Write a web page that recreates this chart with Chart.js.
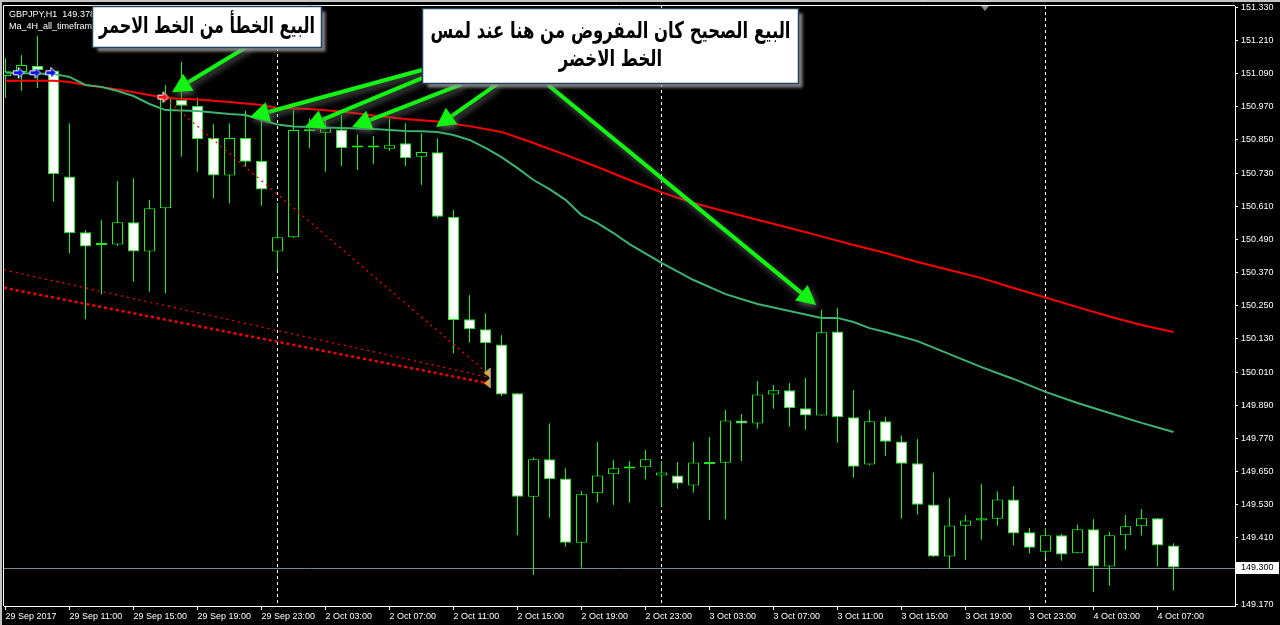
<!DOCTYPE html>
<html lang="ar">
<head>
<meta charset="UTF-8">
<title>GBPJPY,H1</title>
<script src="https://cdn.jsdelivr.net/npm/chart.js"></script>
<style>
    html, body { margin: 0; padding: 0; background: #000; }
    #wrap { width: 1280px; height: 625px; }
</style>
</head>
<body>
<div id="wrap"><canvas id="chart" width="1280" height="625"></canvas></div>
<script>
// bar -1 = 29 Sep 07:00, bar 16 = 2 Oct 00:00, bar 40 = 3 Oct 00:00, bar 64 = 4 Oct 00:00
const firstBar = -1;
const opens = [151.081, 151.096, 151.118, 151.101, 150.718, 150.516, 150.470, 150.472, 150.552, 150.446,
    150.603, 150.995, 150.973, 150.857, 150.721, 150.857, 150.774, 150.446, 150.498, 150.881,
    150.876, 150.888, 150.823, 150.823, 150.818, 150.838, 150.789, 150.805, 150.572, 150.201,
    150.165, 150.110, 149.933, 149.559, 149.694, 149.625, 149.392, 149.571, 149.640, 149.661,
    149.665, 149.636, 149.636, 149.599, 149.684, 149.682, 149.835, 149.824, 149.929, 149.944,
    149.879, 149.853, 150.157, 149.846, 149.675, 149.832, 149.759, 149.680, 149.531, 149.342,
    149.454, 149.473, 149.479, 149.549, 149.430, 149.360, 149.419, 149.354, 149.441, 149.306,
    149.419, 149.452, 149.481, 149.382];
const highs = [151.146, 151.157, 151.227, 151.103, 150.910, 150.524, 150.560, 150.701, 150.711, 150.633,
    151.049, 151.133, 151.004, 150.908, 150.910, 150.956, 150.920, 150.623, 150.958, 150.928,
    150.922, 150.940, 150.871, 150.864, 150.926, 150.910, 150.874, 150.856, 150.596, 150.289,
    150.223, 150.144, 149.934, 149.701, 149.824, 149.662, 149.579, 149.757, 149.692, 149.688,
    149.728, 149.688, 149.684, 149.757, 149.775, 149.873, 149.858, 149.978, 149.963, 149.970,
    149.988, 150.235, 150.242, 149.945, 149.873, 149.847, 149.780, 149.768, 149.646, 149.554,
    149.493, 149.605, 149.579, 149.598, 149.446, 149.446, 149.425, 149.457, 149.478, 149.431,
    149.493, 149.514, 149.482, 149.390];
const lows = [151.002, 151.027, 151.038, 150.626, 150.440, 150.201, 150.291, 150.466, 150.337, 150.301,
    150.295, 150.789, 150.735, 150.639, 150.621, 150.753, 150.612, 150.379, 150.495, 150.820,
    150.735, 150.756, 150.741, 150.763, 150.810, 150.756, 150.687, 150.566, 150.078, 150.116,
    150.000, 149.923, 149.420, 149.276, 149.483, 149.378, 149.303, 149.537, 149.529, 149.537,
    149.622, 149.523, 149.588, 149.573, 149.475, 149.477, 149.688, 149.805, 149.877, 149.812,
    149.801, 149.853, 149.754, 149.628, 149.673, 149.707, 149.479, 149.494, 149.341, 149.298,
    149.331, 149.403, 149.454, 149.382, 149.353, 149.337, 149.327, 149.353, 149.214, 149.237,
    149.367, 149.418, 149.306, 149.219];
const closes = [151.099, 151.121, 151.103, 150.726, 150.512, 150.464, 150.475, 150.552, 150.446, 150.603,
    151.001, 150.974, 150.853, 150.721, 150.857, 150.771, 150.671, 150.498, 150.886, 150.881,
    150.892, 150.820, 150.823, 150.823, 150.831, 150.784, 150.806, 150.572, 150.198, 150.165,
    150.114, 149.929, 149.559, 149.694, 149.622, 149.392, 149.568, 149.636, 149.662, 149.666,
    149.694, 149.646, 149.607, 149.683, 149.676, 149.835, 149.824, 149.929, 149.944, 149.879,
    149.853, 150.154, 149.846, 149.667, 149.832, 149.758, 149.678, 149.530, 149.342, 149.455,
    149.473, 149.481, 149.549, 149.426, 149.374, 149.419, 149.350, 149.441, 149.306, 149.419,
    149.452, 149.481, 149.382, 149.303];

// moving averages
const maRedBars = [-1, 2, 3, 4, 6, 8, 9, 11, 13, 15, 16, 18, 20, 22, 24, 26, 28, 30, 32, 34,
    36, 38, 40, 42, 44, 46, 48, 50, 52, 54, 56, 58, 60, 62, 64, 66, 68, 70, 72];
const maRedValues = [151.064, 151.064, 151.060, 151.049, 151.033, 151.013, 151.002, 150.996, 150.987, 150.976,
    150.966, 150.962, 150.953, 150.938, 150.926, 150.917, 150.900, 150.879, 150.839, 150.796,
    150.752, 150.705, 150.660, 150.622, 150.591, 150.561, 150.531, 150.501, 150.470, 150.441,
    150.408, 150.379, 150.350, 150.314, 150.280, 150.245, 150.211, 150.180, 150.155];
const maGreenBars = [-1, 2, 3, 4, 5, 6, 7, 8, 9, 11, 13, 14, 15, 16, 17, 19, 22, 24, 25, 26,
    27, 28, 29, 30, 31, 32, 33, 34, 35, 36, 37, 38, 40, 42, 44, 46, 48, 50, 51, 52,
    53, 54, 56, 58, 60, 62, 64, 66, 68, 70, 72];
const maGreenValues = [151.093, 151.089, 151.078, 151.049, 151.042, 151.027, 151.009, 150.980, 150.958, 150.955,
    150.944, 150.940, 150.922, 150.906, 150.899, 150.895, 150.890, 150.882, 150.881, 150.879,
    150.868, 150.850, 150.821, 150.788, 150.748, 150.705, 150.672, 150.633, 150.578, 150.549,
    150.513, 150.473, 150.405, 150.343, 150.292, 150.256, 150.231, 150.206, 150.206, 150.191,
    150.169, 150.155, 150.122, 150.075, 150.028, 149.985, 149.938, 149.898, 149.862, 149.826,
    149.793];

// trade lines and markers
const tradeUpperBars = [-1.1, 29.1];
const tradeUpperPrices = [150.380, 149.992];
const tradeLowerBars = [-1.1, 29.1];
const tradeLowerPrices = [150.315, 149.970];
const tradeDiagBars = [9.0, 29.1];
const tradeDiagPrices = [150.998, 150.007];
const buyArrowBars = [-0.2, 0.84, 1.83];
const buyArrowPrices = [151.093, 151.093, 151.093];
const sellArrowBars = [8.84];
const sellArrowPrices = [151.005];
const closeArrowBars = [29.1, 29.1];
const closeArrowPrices = [150.007, 149.970];

const lastPrice = 149.300;
const dayStartBars = [16, 40, 64];
const priceTicks = [151.33, 151.21, 151.09, 150.97, 150.85, 150.73, 150.61, 150.49, 150.37, 150.25,
    150.13, 150.01, 149.89, 149.77, 149.65, 149.53, 149.41, 149.29, 149.17];
const timeLabelBars = [-1, 3, 7, 11, 15, 19, 23, 27, 31, 35, 39, 43, 47, 51, 55, 59, 63, 67, 71];
const timeLabels = ['29 Sep 2017', '29 Sep 11:00', '29 Sep 15:00', '29 Sep 19:00', '29 Sep 23:00',
    '2 Oct 03:00', '2 Oct 07:00', '2 Oct 11:00', '2 Oct 15:00', '2 Oct 19:00', '2 Oct 23:00',
    '3 Oct 03:00', '3 Oct 07:00', '3 Oct 11:00', '3 Oct 15:00', '3 Oct 19:00', '3 Oct 23:00',
    '4 Oct 03:00', '4 Oct 07:00'];
const headerLines = ['GBPJPY,H1  149.378 149.390 149.219 149.303', 'Ma_4H_all_timeframes'];
const noteTexts = [
    ['البيع الخطأ من الخط الاحمر'],
    ['البيع الصحيح كان المفروض من هنا عند لمس', 'الخط الاخضر']
];

// annotation geometry in chart units (bar, price)
const notes = [
    { x0: 4.41, x1: 18.72, p0: 151.335, p1: 151.187, textWidth: 216, lineY: [27] },
    { x0: 25.03, x1: 48.53, p0: 151.327, p1: 151.056, textWidth: 360, lineY: [32, 60] }
];
const noteArrows = [
    { from: [14.16, 151.190], to: [9.41, 151.023] },
    { from: [25.03, 151.103], to: [14.28, 150.933] },
    { from: [25.03, 151.074], to: [17.72, 150.897] },
    { from: [27.53, 151.052], to: [20.66, 150.897] },
    { from: [29.72, 151.052], to: [25.91, 150.897] },
    { from: [32.91, 151.049], to: [49.66, 150.253] }
];

const bars = opens.map((_, k) => firstBar + k);
const wickData = bars.map((b, k) => ({ x: b, y: [lows[k], highs[k]] }));
const bodyData = bars.map((b, k) => ({ x: b, y: [opens[k], closes[k]] }));
const bodyFill = bars.map((b, k) => closes[k] < opens[k] ? '#ffffff' : '#000000');
const toPoints = (xs, ys) => xs.map((v, k) => ({ x: v, y: ys[k] }));

function arrowIcon(color, dir) {
    const c = document.createElement('canvas');
    c.width = 13; c.height = 13;
    const g = c.getContext('2d');
    g.translate(6.5, 6.5);
    g.scale(dir, 1);
    g.beginPath();
    g.moveTo(-5, -2); g.lineTo(0, -2); g.lineTo(0, -5.5); g.lineTo(5.5, 0);
    g.lineTo(0, 5.5); g.lineTo(0, 2); g.lineTo(-5, 2); g.closePath();
    g.fillStyle = color; g.fill();
    g.strokeStyle = '#ffffff'; g.lineWidth = 1; g.stroke();
    return c;
}
function closeIcon() {
    const c = document.createElement('canvas');
    c.width = 8; c.height = 10;
    const g = c.getContext('2d');
    g.beginPath(); g.moveTo(6.5, 0.5); g.lineTo(0.5, 5); g.lineTo(6.5, 9.5); g.closePath();
    g.fillStyle = '#e8a33a'; g.fill();
    g.strokeStyle = '#ffffff'; g.lineWidth = 1;
    g.beginPath(); g.moveTo(7, 0); g.lineTo(7, 10); g.stroke();
    return c;
}

function drawArrow(ctx, x1, y1, x2, y2) {
    const ang = Math.atan2(y2 - y1, x2 - x1);
    const headLen = 19, headW = 10;
    const bx = x2 - headLen * Math.cos(ang), by = y2 - headLen * Math.sin(ang);
    ctx.beginPath(); ctx.moveTo(x1, y1); ctx.lineTo(bx, by); ctx.stroke();
    ctx.beginPath();
    ctx.moveTo(x2, y2);
    ctx.lineTo(bx + headW * Math.sin(ang), by - headW * Math.cos(ang));
    ctx.lineTo(bx - headW * Math.sin(ang), by + headW * Math.cos(ang));
    ctx.closePath(); ctx.fill();
}

const mtOverlay = {
    id: 'mtOverlay',
    beforeDatasetsDraw(chart) {
        const { ctx, chartArea: a, scales: { x, y } } = chart;
        ctx.save();
        ctx.strokeStyle = '#ffffff';
        ctx.lineWidth = 1;
        ctx.setLineDash([3, 3]);
        dayStartBars.forEach(b => {
            const px = Math.floor(x.getPixelForValue(b)) + 0.5;
            ctx.beginPath(); ctx.moveTo(px, a.top); ctx.lineTo(px, a.bottom); ctx.stroke();
        });
        ctx.setLineDash([]);
        const py = Math.floor(y.getPixelForValue(lastPrice)) + 0.5;
        ctx.strokeStyle = '#778899';
        ctx.beginPath(); ctx.moveTo(a.left, py); ctx.lineTo(a.right, py); ctx.stroke();
        ctx.restore();
    },
    afterDraw(chart) {
        const { ctx, chartArea: a, scales: { x, y } } = chart;
        ctx.save();
        // window edge and chart frame
        ctx.fillStyle = '#c4c4c4';
        ctx.fillRect(0, 0, chart.width, 2);
        ctx.fillRect(0, 0, 2, chart.height);
        ctx.strokeStyle = '#ffffff';
        ctx.lineWidth = 1;
        ctx.beginPath();
        ctx.moveTo(a.left - 0.5, a.bottom); ctx.lineTo(a.left - 0.5, a.top - 0.5); ctx.lineTo(a.right, a.top - 0.5);
        ctx.stroke();
        // chart shift marker
        ctx.fillStyle = '#8a8a8a';
        ctx.beginPath();
        ctx.moveTo(a.right - 254, a.top); ctx.lineTo(a.right - 246, a.top); ctx.lineTo(a.right - 250, a.top + 5);
        ctx.closePath(); ctx.fill();

        // header text
        ctx.fillStyle = '#ffffff';
        ctx.font = '9px "Liberation Sans"';
        ctx.textBaseline = 'middle';
        ctx.textAlign = 'left';
        headerLines.forEach((t, k) => ctx.fillText(t, 9, 15 + k * 12));

        // last price label on the axis
        const py = y.getPixelForValue(lastPrice);
        ctx.fillStyle = '#ffffff';
        ctx.fillRect(a.right + 1, Math.round(py) - 6, 43, 12);
        ctx.fillStyle = '#000000';
        ctx.fillText(lastPrice.toFixed(3), a.right + 6, Math.round(py));

        // green arrows
        ctx.save();
        ctx.strokeStyle = '#12f512';
        ctx.fillStyle = '#12f512';
        ctx.lineWidth = 4;
        ctx.shadowColor = 'rgba(110,110,110,0.85)';
        ctx.shadowBlur = 6;
        ctx.shadowOffsetX = 2;
        ctx.shadowOffsetY = 3;
        noteArrows.forEach(ar => drawArrow(ctx,
            x.getPixelForValue(ar.from[0]), y.getPixelForValue(ar.from[1]),
            x.getPixelForValue(ar.to[0]), y.getPixelForValue(ar.to[1])));
        ctx.restore();

        // note boxes
        notes.forEach((n, k) => {
            const bx0 = Math.round(x.getPixelForValue(n.x0)) + 0.5;
            const bx1 = Math.round(x.getPixelForValue(n.x1)) + 0.5;
            const by0 = Math.round(y.getPixelForValue(n.p0)) + 0.5;
            const by1 = Math.round(y.getPixelForValue(n.p1)) + 0.5;
            ctx.save();
            ctx.shadowColor = 'rgba(150,150,150,0.9)';
            ctx.shadowBlur = 3;
            ctx.shadowOffsetX = 4;
            ctx.shadowOffsetY = 4;
            ctx.fillStyle = '#ffffff';
            ctx.fillRect(bx0, by0, bx1 - bx0, by1 - by0);
            ctx.restore();
            ctx.strokeStyle = '#23405e';
            ctx.lineWidth = 1.5;
            ctx.strokeRect(bx0, by0, bx1 - bx0, by1 - by0);
            // bold Arabic text, squeezed to the width seen in the picture
            ctx.font = 'bold 23px "DejaVu Sans", sans-serif';
            const w = ctx.measureText(noteTexts[k][0]).width;
            const sx = n.textWidth / w;
            ctx.fillStyle = '#000000';
            ctx.textAlign = 'center';
            ctx.textBaseline = 'middle';
            ctx.direction = 'rtl';
            noteTexts[k].forEach((t, j) => {
                ctx.save();
                ctx.translate((bx0 + bx1) / 2, n.lineY[j]);
                ctx.scale(sx, 1);
                ctx.fillText(t, 0, 0);
                ctx.restore();
            });
            ctx.direction = 'ltr';
        });
        ctx.restore();
    }
};

Chart.defaults.font.family = '"Liberation Sans", sans-serif';
Chart.defaults.font.size = 9;
Chart.defaults.color = '#ffffff';

new Chart(document.getElementById('chart'), {
    type: 'line',
    data: {
        datasets: [
            {
                type: 'bar', data: wickData, order: 6, grouped: false,
                backgroundColor: '#12f512', borderWidth: 0, inflateAmount: 0,
                barThickness: 1, maxBarThickness: 1
            },
            {
                type: 'bar', data: bodyData, order: 5, grouped: false,
                backgroundColor: bodyFill, borderColor: '#12f512', borderWidth: 1,
                borderSkipped: false, inflateAmount: 0, minBarLength: 2,
                barThickness: 11, maxBarThickness: 11
            },
            {
                data: toPoints(maRedBars, maRedValues), order: 4,
                borderColor: '#ff0000', borderWidth: 2, pointRadius: 0, tension: 0
            },
            {
                data: toPoints(maGreenBars, maGreenValues), order: 3,
                borderColor: '#3cb371', borderWidth: 2, pointRadius: 0, tension: 0
            },
            {
                data: toPoints(tradeUpperBars, tradeUpperPrices), order: 2,
                borderColor: '#ff0000', borderWidth: 1.3, borderDash: [2, 4], pointRadius: 0
            },
            {
                data: toPoints(tradeLowerBars, tradeLowerPrices), order: 2,
                borderColor: '#ff0000', borderWidth: 2.5, borderDash: [3, 3], pointRadius: 0
            },
            {
                data: toPoints(tradeDiagBars, tradeDiagPrices), order: 2,
                borderColor: '#ff0000', borderWidth: 1.3, borderDash: [2, 4], pointRadius: 0
            },
            {
                data: toPoints(buyArrowBars, buyArrowPrices), order: 1, showLine: false,
                pointStyle: arrowIcon('#0a14e6', 1), pointRadius: 6
            },
            {
                data: toPoints(sellArrowBars, sellArrowPrices), order: 1, showLine: false,
                pointStyle: arrowIcon('#ff1010', 1), pointRadius: 6
            },
            {
                data: toPoints(closeArrowBars, closeArrowPrices), order: 1, showLine: false,
                pointStyle: closeIcon(), pointRadius: 5
            }
        ]
    },
    options: {
        responsive: false,
        animation: false,
        devicePixelRatio: 1,
        layout: { autoPadding: false, padding: { left: 4, top: 6, right: 0, bottom: 0 } },
        plugins: { legend: { display: false }, tooltip: { enabled: false } },
        scales: {
            x: {
                type: 'linear',
                min: -1.09375,
                max: 75.84375,
                offset: false,
                grid: { display: true, drawOnChartArea: false, drawTicks: true, tickLength: 4, color: '#ffffff', offset: false },
                border: { display: true, color: '#ffffff' },
                ticks: {
                    autoSkip: false, maxRotation: 0, minRotation: 0, align: 'start', padding: 1,
                    color: '#ffffff', callback: (v, i) => timeLabels[i]
                },
                afterBuildTicks: s => { s.ticks = timeLabelBars.map(v => ({ value: v })); },
                afterFit: s => { s.height = 19; s.paddingLeft = 0; s.paddingRight = 0; }
            },
            y: {
                type: 'linear',
                position: 'right',
                min: 149.1633,
                max: 151.3347,
                beginAtZero: false,
                grid: { display: true, drawOnChartArea: false, drawTicks: true, tickLength: 3, color: '#ffffff' },
                border: { display: true, color: '#ffffff' },
                ticks: {
                    autoSkip: false, padding: 3, color: '#ffffff',
                    callback: v => v.toFixed(3)
                },
                afterBuildTicks: s => { s.ticks = priceTicks.map(v => ({ value: v })); },
                afterFit: s => { s.width = 45; s.paddingTop = 0; s.paddingBottom = 0; }
            }
        }
    },
    plugins: [mtOverlay]
});
</script>
</body>
</html>
